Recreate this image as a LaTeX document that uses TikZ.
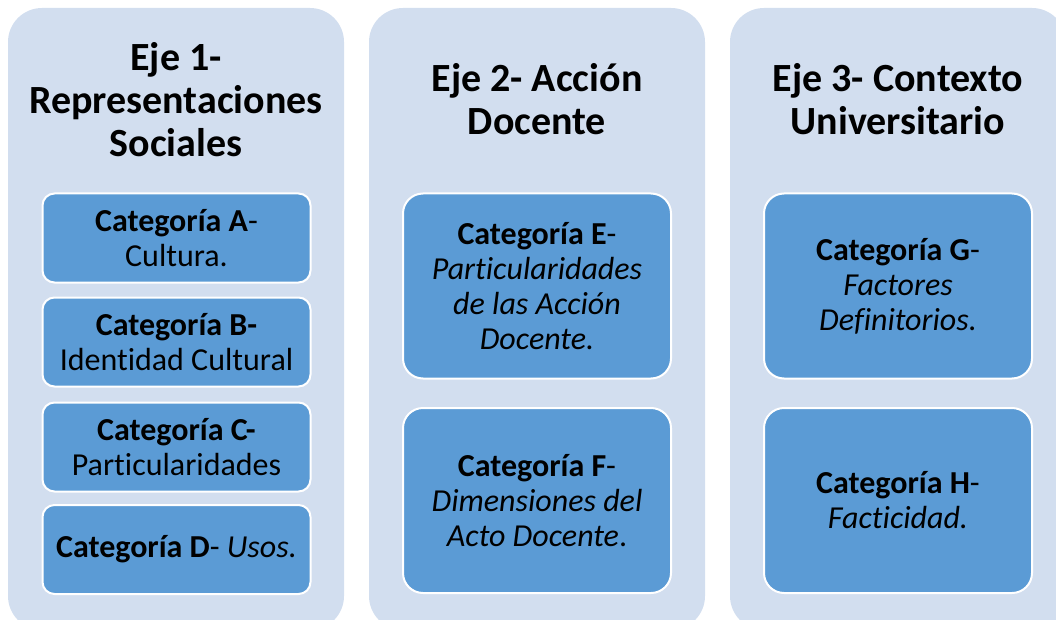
\documentclass[tikz,border=0pt]{standalone}
\usepackage{fontspec}
\setmainfont{Carlito}[Ligatures=NoCommon]
\usepackage{tikz}
\usetikzlibrary{positioning}

\definecolor{paneFill}{HTML}{D2DEEF}
\definecolor{catFill}{HTML}{5B9BD5}

\begin{document}
\begin{tikzpicture}[x=1pt,y=-1pt,
    pane/.style={fill=paneFill, rounded corners=34pt, minimum width=336pt, minimum height=622pt, inner sep=0pt},
    axisTitle/.style={align=center, font=\fontsize{40}{43}\selectfont\bfseries},
    category/.style={draw=white, line width=2pt, fill=catFill, rounded corners=12pt, minimum width=268pt, minimum height=89pt, inner sep=0pt, align=center, font=\fontsize{32}{35}\selectfont},
    bigCategory/.style={category, rounded corners=20pt, minimum height=185pt}]
    \useasboundingbox (0,0) rectangle (1056,620);
    \clip (0,0) rectangle (1056,620);

    \node[pane] (pane1) at (176,319) {};
    \node[pane] (pane2) at (537,319) {};
    \node[pane] (pane3) at (898,319) {};

    \node[axisTitle] (axis1) at (176,100) {Eje 1-\\Representaciones\\Sociales};
    \node[axisTitle] (axis2) at (537,99) {Eje 2- Acción\\Docente};
    \node[axisTitle] (axis3) at (898,99) {Eje 3- Contexto\\Universitario};

    \node[category] (catA) at (176.5,238) {\textbf{Categoría A}-\\Cultura.};
    \node[category] (catB) at (176.5,342) {\textbf{Categoría B-}\\Identidad Cultural};
    \node[category] (catC) at (176.5,447) {\textbf{Categoría C-}\\Particularidades};
    \node[category] (catD) at (176.5,549.5) {\textbf{Categoría D}- \textit{Usos.}};

    \node[bigCategory] (catE) at (537,286) {\textbf{Categoría E}-\\\textit{Particularidades}\\\textit{de las Acción}\\\textit{Docente.}};
    \node[bigCategory] (catF) at (537,500.5) {\textbf{Categoría F}-\\\textit{Dimensiones del}\\\textit{Acto Docente}.};

    \node[bigCategory] (catG) at (898,286) {\textbf{Categoría G}-\\\textit{Factores}\\\textit{Definitorios.}};
    \node[bigCategory] (catH) at (898,500.5) {\textbf{Categoría H}-\\\textit{Facticidad.}};

\end{tikzpicture}
\end{document}
